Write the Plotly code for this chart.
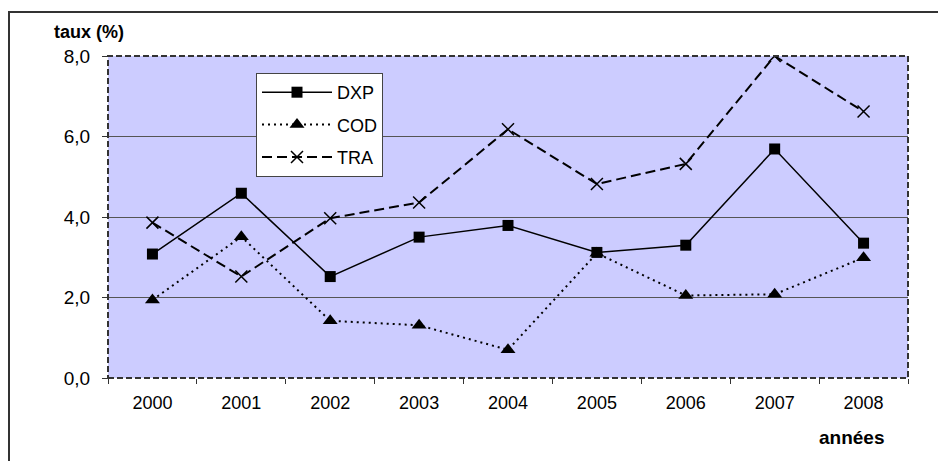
import plotly.graph_objects as go

years = ["2000", "2001", "2002", "2003", "2004", "2005", "2006", "2007", "2008"]
dxp = [3.08, 4.59, 2.52, 3.50, 3.79, 3.12, 3.30, 5.69, 3.35]
cod = [1.94, 3.51, 1.42, 1.31, 0.70, 3.10, 2.05, 2.08, 2.99]
tra = [3.86, 2.52, 3.97, 4.36, 6.18, 4.82, 5.32, 8.00, 6.62]
y_ticks = [0, 2, 4, 6, 8]

FONT = "Liberation Sans, Arial, sans-serif"

fig = go.Figure()
fig.add_trace(go.Scatter(
    x=years, y=dxp, name="DXP", mode="lines+markers", legendgroup="a",
    line=dict(color="black", width=1.5),
    marker=dict(symbol="square", size=11, color="black"),
))
fig.add_trace(go.Scatter(
    x=years, y=cod, name="COD", mode="lines+markers", legendgroup="b",
    line=dict(color="black", width=2, dash="2px,4px"),
    marker=dict(symbol="triangle-up", size=13, color="black"),
))
fig.add_trace(go.Scatter(
    x=years, y=tra, name="TRA", mode="lines+markers", legendgroup="c",
    line=dict(color="black", width=2, dash="10px,5px"),
    marker=dict(symbol="x-thin-open", size=12, color="black",
                line=dict(color="black", width=1.5)),
))

fig.update_layout(
    width=938, height=461,
    margin=dict(l=108, r=30, t=56, b=83),
    paper_bgcolor="white",
    plot_bgcolor="#CCCCFF",
    separators=", ",
    font=dict(family=FONT, size=18, color="black"),
    showlegend=True,
    legend=dict(
        x=(256 - 108) / 800, y=(378 - 73) / 322, xanchor="left", yanchor="top",
        bgcolor="white", bordercolor="#444", borderwidth=1,
        font=dict(family=FONT, size=18, color="black"),
        itemwidth=70, tracegroupgap=6, traceorder="grouped",
    ),
    xaxis=dict(
        type="category", tickson="boundaries", ticks="outside", ticklen=5,
        tickcolor="#333", tickwidth=1, showgrid=False, showline=False,
        zeroline=False, tickfont=dict(size=18), range=[-0.5, 8.5],
        ticklabelstandoff=12,
    ),
    yaxis=dict(
        range=[0, 8], tickvals=y_ticks, tickformat=".1f", ticks="outside",
        ticklen=5, tickcolor="#333", showgrid=True, gridcolor="#555",
        gridwidth=1, zeroline=False, showline=False, tickfont=dict(size=19),
        ticklabelstandoff=8,
    ),
    shapes=[
        # outer chart frame
        dict(type="rect", xref="paper", yref="paper",
             x0=-99 / 800, x1=1.2, y0=-0.5, y1=(378 - 12) / 322,
             line=dict(color="#333", width=2), layer="below"),
        # dashed plot-area border
        dict(type="rect", xref="paper", yref="paper", x0=0, x1=1, y0=0, y1=1,
             line=dict(color="#333", width=2, dash="6px,3px")),
    ],
    annotations=[
        dict(text="<b>taux (%)</b>", xref="paper", yref="paper",
             x=(52 - 108) / 800, y=(378 - 32) / 322, xanchor="left",
             yanchor="middle", showarrow=False, font=dict(size=18)),
        dict(text="<b>années</b>", xref="paper", yref="paper",
             x=(886 - 108) / 800, y=(378 - 438) / 322, xanchor="right",
             yanchor="middle", showarrow=False, font=dict(size=19)),
    ],
)

fig.write_html("out.html")
